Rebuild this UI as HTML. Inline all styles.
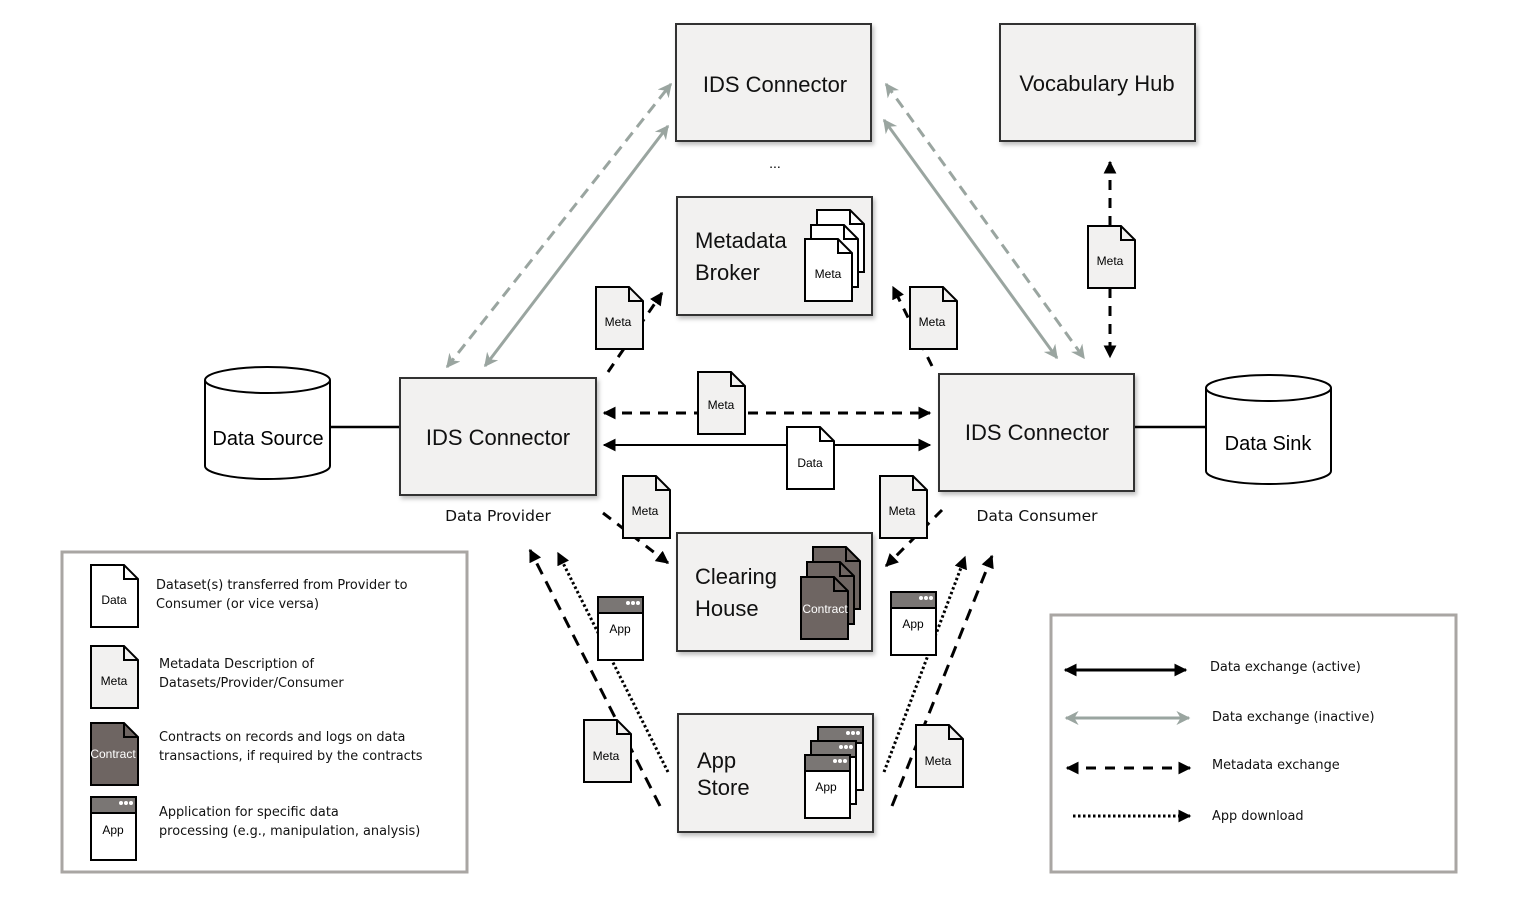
<!DOCTYPE html>
<html><head><meta charset="utf-8"><style>
html,body{margin:0;padding:0;background:#fff}
svg{display:block}
text{font-family:"Liberation Sans",sans-serif}
.lg{font-family:"DejaVu Sans","Liberation Sans",sans-serif;font-size:12.9px;fill:#111}
.lb{font-family:"DejaVu Sans","Liberation Sans",sans-serif;font-size:15.5px;fill:#111}
</style></head><body>
<svg width="1513" height="902" viewBox="0 0 1513 902" xmlns="http://www.w3.org/2000/svg">
<defs>
<marker id="ab" viewBox="0 0 10 10" refX="9" refY="5" markerWidth="13" markerHeight="13" markerUnits="userSpaceOnUse" orient="auto-start-reverse"><path d="M0,0 L10,5 L0,10 Z" fill="#000"/></marker>
<marker id="ag" viewBox="0 0 10 10" refX="9" refY="5" markerWidth="14" markerHeight="14" markerUnits="userSpaceOnUse" orient="auto-start-reverse"><path d="M0,0 L10,5 L0,10 L3,5 Z" fill="#9aa5a0"/></marker>
<filter id="sh" x="-5%" y="-5%" width="115%" height="120%"><feDropShadow dx="2" dy="3" stdDeviation="2" flood-color="#000" flood-opacity="0.25"/></filter>
<g id="doc"><path d="M0,0 H33 L47,14 V62 H0 Z" stroke="#000" stroke-width="2"/><path d="M33,0 V14 H47" fill="none" stroke="#000" stroke-width="2"/></g>
<g id="app"><rect x="0" y="0" width="45" height="63" fill="#fff" stroke="#000" stroke-width="2"/><rect x="0" y="0" width="45" height="16" fill="#7a7674" stroke="#000" stroke-width="2"/><circle cx="30" cy="6" r="2" fill="#fff"/><circle cx="35" cy="6" r="2" fill="#fff"/><circle cx="40" cy="6" r="2" fill="#fff"/></g>
</defs>

<g fill="#f2f1f0" stroke="#333" stroke-width="2" filter="url(#sh)">
<rect x="676" y="24" width="195" height="117"/>
<rect x="1000" y="24" width="195" height="117"/>
<rect x="677" y="197" width="195" height="118"/>
<rect x="400" y="378" width="196" height="117"/>
<rect x="939" y="374" width="195" height="117"/>
<rect x="677" y="533" width="195" height="118"/>
<rect x="678" y="714" width="195" height="118"/>
</g>
<g font-size="22" fill="#111" text-anchor="middle">
<text x="775" y="92">IDS Connector</text>
<text x="1097" y="91">Vocabulary Hub</text>
<text x="498" y="445">IDS Connector</text>
<text x="1037" y="440">IDS Connector</text>
</g>
<g font-size="22" fill="#111">
<text x="695" y="248">Metadata</text><text x="695" y="280">Broker</text>
<text x="695" y="584">Clearing</text><text x="695" y="616">House</text>
<text x="697" y="768">App</text><text x="697" y="795">Store</text>
</g>
<text x="775" y="168" font-size="14" text-anchor="middle">...</text>
<text class="lb" x="498" y="521" text-anchor="middle">Data Provider</text>
<text class="lb" x="1037" y="521" text-anchor="middle">Data Consumer</text>

<g fill="#fff" stroke="#000" stroke-width="2">
<path d="M205,380 V466 A62.5,13 0 0 0 330,466 V380"/>
<ellipse cx="267.5" cy="380" rx="62.5" ry="13"/>
<path d="M1206,388 V471 A62.5,13 0 0 0 1331,471 V388"/>
<ellipse cx="1268.5" cy="388" rx="62.5" ry="13"/>
</g>
<text x="268" y="445" font-size="20" text-anchor="middle">Data Source</text>
<text x="1268" y="450" font-size="20" text-anchor="middle">Data Sink</text>
<line x1="331" y1="427" x2="399" y2="427" stroke="#000" stroke-width="2.5"/>
<line x1="1135" y1="427" x2="1205" y2="427" stroke="#000" stroke-width="2.5"/>

<g stroke="#9aa5a0" stroke-width="3" fill="none">
<line x1="447" y1="367" x2="671" y2="84" stroke-dasharray="11,7" marker-start="url(#ag)" marker-end="url(#ag)"/>
<line x1="485" y1="366" x2="668" y2="126" marker-start="url(#ag)" marker-end="url(#ag)"/>
<line x1="884" y1="120" x2="1057" y2="358" marker-start="url(#ag)" marker-end="url(#ag)"/>
<line x1="886" y1="84" x2="1084" y2="358" stroke-dasharray="11,7" marker-start="url(#ag)" marker-end="url(#ag)"/>
</g>
<g stroke="#000" stroke-width="3" fill="none">
<line x1="1110" y1="162" x2="1110" y2="357" stroke-dasharray="10,8" marker-start="url(#ab)" marker-end="url(#ab)"/>
<line x1="608" y1="372" x2="662" y2="293" stroke-dasharray="10,8" marker-end="url(#ab)"/>
<line x1="932" y1="366" x2="893" y2="287" stroke-dasharray="10,8" marker-end="url(#ab)"/>
<line x1="604" y1="413" x2="930" y2="413" stroke-dasharray="10,8" marker-start="url(#ab)" marker-end="url(#ab)"/>
<line x1="604" y1="445" x2="930" y2="445" stroke-width="2" marker-start="url(#ab)" marker-end="url(#ab)"/>
<line x1="603" y1="513" x2="668" y2="563" stroke-dasharray="10,8" marker-end="url(#ab)"/>
<line x1="942" y1="510" x2="886" y2="566" stroke-dasharray="10,8" marker-end="url(#ab)"/>
<line x1="660" y1="806" x2="530" y2="550" stroke-dasharray="12,8" marker-end="url(#ab)"/>
<line x1="892" y1="806" x2="992" y2="556" stroke-dasharray="12,8" marker-end="url(#ab)"/>
<line x1="668" y1="772" x2="558" y2="553" stroke-dasharray="2.5,2.5" marker-end="url(#ab)"/>
<line x1="884" y1="772" x2="965" y2="557" stroke-dasharray="2.5,2.5" marker-end="url(#ab)"/>
</g>

<use href="#doc" x="817" y="210" fill="#fff"/>
<use href="#doc" x="811" y="225" fill="#fff"/>
<use href="#doc" x="805" y="239" fill="#fff"/>
<text x="828" y="278" font-size="12" text-anchor="middle">Meta</text>
<use href="#doc" x="813" y="547" fill="#6e6562"/>
<use href="#doc" x="807" y="562" fill="#6e6562"/>
<use href="#doc" x="801" y="577" fill="#6e6562"/>
<text x="825" y="613" font-size="12" text-anchor="middle" fill="#fff">Contract</text>
<use href="#app" x="818" y="727"/>
<use href="#app" x="811" y="741"/>
<use href="#app" x="805" y="755"/>
<text x="826" y="791" font-size="12" text-anchor="middle">App</text>

<g font-size="12" text-anchor="middle">
<use href="#doc" x="596" y="287" fill="#f2f1f0"/><text x="618" y="326">Meta</text>
<use href="#doc" x="910" y="287" fill="#f2f1f0"/><text x="932" y="326">Meta</text>
<use href="#doc" x="1088" y="226" fill="#f2f1f0"/><text x="1110" y="265">Meta</text>
<use href="#doc" x="698" y="372" fill="#f2f1f0"/><text x="721" y="409">Meta</text>
<use href="#doc" x="787" y="427" fill="#fff"/><text x="810" y="467">Data</text>
<use href="#doc" x="623" y="476" fill="#f2f1f0"/><text x="645" y="515">Meta</text>
<use href="#doc" x="880" y="476" fill="#f2f1f0"/><text x="902" y="515">Meta</text>
<use href="#app" x="598" y="597"/><text x="620" y="633">App</text>
<use href="#app" x="891" y="592"/><text x="913" y="628">App</text>
<use href="#doc" x="584" y="720" fill="#f2f1f0"/><text x="606" y="760">Meta</text>
<use href="#doc" x="916" y="725" fill="#f2f1f0"/><text x="938" y="765">Meta</text>
</g>

<rect x="62" y="552" width="405" height="320" fill="#fff" stroke="#a9a6a3" stroke-width="3"/>
<g font-size="12" text-anchor="middle">
<use href="#doc" x="91" y="565" fill="#fff"/><text x="114" y="604">Data</text>
<use href="#doc" x="91" y="646" fill="#f2f1f0"/><text x="114" y="685">Meta</text>
<use href="#doc" x="91" y="723" fill="#6e6562"/><text x="113" y="758" fill="#fff">Contract</text>
<use href="#app" x="91" y="797"/><text x="113" y="834">App</text>
</g>
<text class="lg" x="156" y="589">Dataset(s) transferred from Provider to</text>
<text class="lg" x="156" y="608">Consumer (or vice versa)</text>
<text class="lg" x="159" y="668">Metadata Description of</text>
<text class="lg" x="159" y="687">Datasets/Provider/Consumer</text>
<text class="lg" x="159" y="741">Contracts on records and logs on data</text>
<text class="lg" x="159" y="760">transactions, if required by the contracts</text>
<text class="lg" x="159" y="816">Application for specific data</text>
<text class="lg" x="159" y="835">processing (e.g., manipulation, analysis)</text>

<rect x="1051" y="615" width="405" height="257" fill="#fff" stroke="#a9a6a3" stroke-width="3"/>
<line x1="1065" y1="670" x2="1186" y2="670" stroke="#000" stroke-width="3" marker-start="url(#ab)" marker-end="url(#ab)"/>
<line x1="1066" y1="718" x2="1189" y2="718" stroke="#9aa5a0" stroke-width="3" marker-start="url(#ag)" marker-end="url(#ag)"/>
<line x1="1067" y1="768" x2="1190" y2="768" stroke="#000" stroke-width="3" stroke-dasharray="10,9" marker-start="url(#ab)" marker-end="url(#ab)"/>
<line x1="1073" y1="816" x2="1190" y2="816" stroke="#000" stroke-width="3" stroke-dasharray="2.5,2.5" marker-end="url(#ab)"/>
<text class="lg" x="1210" y="671">Data exchange (active)</text>
<text class="lg" x="1212" y="721">Data exchange (inactive)</text>
<text class="lg" x="1212" y="769">Metadata exchange</text>
<text class="lg" x="1212" y="820">App download</text>
</svg>
</body></html>
